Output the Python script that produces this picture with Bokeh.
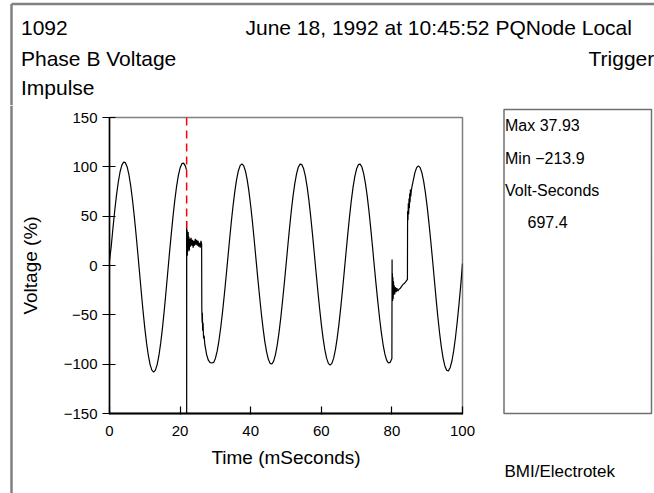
from bokeh.plotting import figure
from bokeh.models import FixedTicker, Range1d
from bokeh.layouts import column, row
from bokeh.core.properties import value
from bokeh.embed import file_html
from bokeh.resources import INLINE

NAN = float("nan")

# ---------------- data ----------------
# waveform before the trigger (0 .. 21.8 ms)
pre_t = [0.0, 0.5, 1.0, 1.5, 2.0, 2.5, 3.0, 3.5, 4.0, 4.5, 5.0, 5.5, 6.0, 6.5, 7.0, 7.5,
         8.0, 8.5, 9.0, 9.5, 10.0, 10.5, 11.0, 11.5, 12.0, 12.5, 13.0, 13.5, 14.0, 14.5,
         15.0, 15.5, 16.0, 16.5, 17.0, 17.5, 18.0, 18.5, 19.0, 19.5, 20.0, 20.5, 21.0,
         21.5, 21.8]
pre_v = [5, 19.7, 38.7, 56.3, 71.9, 84.9, 95.0, 101.7, 104.8, 104.2, 99.9, 92.0, 80.9,
         66.9, 50.6, 32.4, 13.2, -6.8, -26.9, -46.0, -63.5, -78.7, -91.2, -100.4, -106.1,
         -108.0, -106.1, -100.4, -91.2, -78.7, -63.5, -46.0, -26.9, -6.8, 13.0, 32.1, 50.1,
         66.3, 80.1, 91.1, 98.9, 103.2, 103.8, 100.7, 97.2]

# impulse at the trigger and the notch that follows (21.85 .. 28.5 ms)
imp1_t = [21.85, 21.86, 21.88, 21.95, 22.0, 22.05, 22.1, 22.2, 22.3, 22.4, 22.5, 22.6,
          22.75, 22.9, 23.1, 23.3, 23.5, 23.7, 23.9, 24.1, 24.3, 24.5, 24.7, 24.9, 25.1,
          25.3, 25.5, 25.7, 25.9, 26.1, 26.15, 26.25, 26.3, 26.4, 26.5, 26.65, 26.8, 27.0,
          27.5, 28.0, 28.5]
imp1_v = [45, -213.9, 38, 12, 36, 10, 31, 14, 34, 17, 29, 15, 27, 19, 28, 20, 26, 18, 25,
          20, 27, 21, 26, 20, 25, 19, 23, 18, 25, 22, -44, -58, -48, -66, -58, -74, -71,
          -80, -90, -96, -98.5]

# steady cycles between the two events (29 .. 80 ms)
mid_t = [29.0, 29.5, 30.0, 30.5, 31.0, 31.5, 32.0, 32.5, 33.0, 33.5, 34.0, 34.5, 35.0,
         35.5, 36.0, 36.5, 37.0, 37.5, 38.0, 38.5, 39.0, 39.5, 40.0, 40.5, 41.0, 41.5,
         42.0, 42.5, 43.0, 43.5, 44.0, 44.5, 45.0, 45.5, 46.0, 46.5, 47.0, 47.5, 48.0,
         48.5, 49.0, 49.5, 50.0, 50.5, 51.0, 51.5, 52.0, 52.5, 53.0, 53.5, 54.0, 54.5,
         55.0, 55.5, 56.0, 56.5, 57.0, 57.5, 58.0, 58.5, 59.0, 59.5, 60.0, 60.5, 61.0,
         61.5, 62.0, 62.5, 63.0, 63.5, 64.0, 64.5, 65.0, 65.5, 66.0, 66.5, 67.0, 67.5,
         68.0, 68.5, 69.0, 69.5, 70.0, 70.5, 71.0, 71.5, 72.0, 72.5, 73.0, 73.5, 74.0,
         74.5, 75.0, 75.5, 76.0, 76.5, 77.0, 77.5, 78.0, 78.5, 79.0, 79.5, 80.0]
mid_v = [-98.8, -98.2, -94.2, -86.8, -76.3, -63.1, -47.7, -30.6, -12.4, 6.5, 25.6, 43.9,
         60.5, 75.1, 87.0, 95.8, 101.2, 103.0, 101.2, 95.8, 87.0, 75.1, 60.5, 43.9, 25.6,
         6.5, -12.5, -30.9, -48.2, -63.7, -77.1, -87.6, -95.1, -99.2, -99.8, -96.9, -90.5,
         -80.9, -68.5, -53.6, -36.8, -18.7, 0, 19.3, 37.9, 55.2, 70.5, 83.3, 93.2, 99.8,
         102.8, 102.2, 98.0, 90.3, 79.4, 65.7, 49.6, 31.8, 12.9, -6.3, -25.1, -43.0, -59.4,
         -73.6, -85.3, -93.9, -99.2, -101.0, -99.2, -93.9, -85.3, -73.6, -59.4, -43.0,
         -25.1, -6.3, 12.9, 31.8, 49.6, 65.7, 79.4, 90.3, 98.0, 102.2, 102.8, 99.8, 93.2,
         83.3, 70.5, 55.2, 37.9, 19.3, 0, -18.6, -36.4, -53.0, -67.8, -80.1, -89.6, -95.9,
         -98.8, -98.2, -94.2]

# second disturbance (80 .. 85.75 ms)
imp2_t = [80.05, 80.1, 80.15, 80.2, 80.28, 80.36, 80.45, 80.55, 80.65, 80.8, 81.0, 81.2,
          81.4, 81.7, 82.0, 82.4, 82.8, 83.2, 83.6, 84.0, 84.4, 84.45, 84.55, 84.65, 84.75,
          84.85, 84.95, 85.05, 85.15, 85.25, 85.35, 85.5, 85.75]
imp2_v = [6, -32, -8, -36, -12, -34, -16, -30, -20, -29, -22, -27, -23, -26, -24, -23, -21,
          -19, -18, -16, -14, 55, 46, 63, 52, 68, 58, 73, 64, 77, 70, 76, 81]

# last cycle (86 .. 100 ms)
end_t = [86.0, 86.5, 87.0, 87.5, 88.0, 88.5, 89.0, 89.5, 90.0, 90.5, 91.0, 91.5, 92.0,
         92.5, 93.0, 93.5, 94.0, 94.5, 95.0, 95.5, 96.0, 96.5, 97.0, 97.5, 98.0, 98.5,
         99.0, 99.5, 100.0]
end_v = [85.3, 93.9, 99.2, 101.0, 99.2, 93.9, 85.3, 73.6, 59.4, 43.0, 25.1, 6.3, -13.4,
         -33.1, -51.6, -68.2, -82.4, -93.8, -101.8, -106.2, -106.8, -103.6, -96.8, -86.6,
         -73.2, -57.3, -39.4, -20.1, 2]

trigger_ms = [21.85, 21.85]
trigger_v = [150, 37.93]

x_ticks = [0, 20, 40, 60, 80, 100]
y_ticks = [-150, -100, -50, 0, 50, 100, 150]
y_tick_labels = ["\u2212150", "\u2212100", "\u221250", "0", "50", "100", "150"]

header_left = ["1092", "Phase B Voltage", "Impulse"]
header_date = "June 18, 1992 at 10:45:52 PQNode Local"
header_trigger = "Trigger"
stats_lines = ["Max 37.93", "Min \u2212213.9", "Volt-Seconds", "697.4"]
credit = "BMI/Electrotek"

# ---------------- layout ----------------
FONT = "Liberation Sans"
GRAY = "#808080"
HDR_H = 105          # header strip height (px)
STRIP_W = 14         # left border strip width (px)
MAIN_W = 466         # chart canvas width (px)
SIDE_W = 654 - STRIP_W - MAIN_W
BODY_H = 493 - HDR_H
BASE_FIX = 0.40      # observed shift of the text baseline, in em


def blank(width, height, x0, y0):
    """A figure whose frame fills its canvas, mapped 1:1 onto page pixels."""
    f = figure(width=width, height=height, output_backend="svg", toolbar_location=None,
               x_range=Range1d(x0, x0 + width), y_range=Range1d(y0 + height, y0),
               x_axis_type=None, y_axis_type=None, min_border=0)
    f.frame_align = False
    f.outline_line_color = None
    f.background_fill_color = "white"
    f.border_fill_color = "white"
    return f


def put_text(f, texts, xs, ys, size_px):
    ys = [y - BASE_FIX * size_px for y in ys]
    f.text(x=xs, y=ys, text=texts, text_font=value(FONT), text_font_size=f"{size_px}px",
           text_color="black", text_align="left", text_baseline="alphabetic")


# header
hdr = blank(654, HDR_H, 0, 0)
hdr.segment(x0=[11, 11], y0=[3.5, 3.5], x1=[654, 11], y1=[3.5, HDR_H],
            line_color=GRAY, line_width=2.5)
put_text(hdr, header_left + [header_date, header_trigger],
         [20.5, 20.5, 20.5, 245, 588], [35.7, 66.7, 95, 35.7, 66.7], 21)

# left border strip
strip = blank(STRIP_W, BODY_H, 0, HDR_H)
strip.segment(x0=[11], y0=[HDR_H], x1=[11], y1=[493], line_color=GRAY, line_width=2.5)

# statistics panel
side = blank(SIDE_W, BODY_H, STRIP_W + MAIN_W, HDR_H)
side.quad(left=[503.5], right=[651], top=[109], bottom=[413], fill_color=None,
          line_color="#707070", line_width=1.5)
put_text(side, stats_lines[:3], [504.5, 504.5, 504.5], [131.7, 164, 196], 16)
put_text(side, stats_lines[3:], [527], [228.3], 16)
put_text(side, [credit], [504], [478], 17)

# main chart
time_ms = pre_t + [21.82] + imp1_t + mid_t + imp2_t + end_t
volt_pct = pre_v + [NAN] + imp1_v + mid_v + imp2_v + end_v

p = figure(width=MAIN_W, height=BODY_H, output_backend="svg", toolbar_location=None,
           x_range=Range1d(0, 100), y_range=Range1d(-150, 150),
           min_border_left=109 - STRIP_W, min_border_right=STRIP_W + MAIN_W - 462,
           min_border_top=117 - HDR_H, min_border_bottom=493 - 413)
p.frame_align = False
p.xgrid.visible = False
p.ygrid.visible = False
p.background_fill_color = "white"
p.border_fill_color = "white"
p.outline_line_color = GRAY
p.outline_line_width = 1.5

p.line(time_ms, volt_pct, line_color="black", line_width=1.2)
p.line(trigger_ms, trigger_v, line_color="red", line_width=1.5, line_dash="8 5")

xa = p.xaxis[0]
xa.ticker = FixedTicker(ticks=x_ticks)
xa.axis_line_width = 2
xa.axis_line_color = "black"
xa.major_tick_in = 7
xa.major_tick_out = 1
xa.major_tick_line_width = 1.2
xa.minor_tick_line_color = None
xa.major_label_standoff = 11
xa.major_label_text_font = FONT
xa.major_label_text_font_size = "15px"
xa.major_label_text_color = "black"
xa.axis_label = "Time (mSeconds)"
xa.axis_label_text_font = FONT
xa.axis_label_text_font_size = "19px"
xa.axis_label_text_font_style = "normal"
xa.axis_label_text_color = "black"
xa.axis_label_standoff = 8

ya = p.yaxis[0]
ya.ticker = FixedTicker(ticks=y_ticks)
ya.major_label_overrides = {t: s for t, s in zip(y_ticks, y_tick_labels)}
ya.axis_line_width = 1.5
ya.axis_line_color = "black"
ya.major_tick_in = 6
ya.major_tick_out = 7
ya.major_tick_line_width = 1.2
ya.minor_tick_line_color = None
ya.major_label_standoff = 5
ya.major_label_text_font = FONT
ya.major_label_text_font_size = "15px"
ya.major_label_text_color = "black"
ya.axis_label = "Voltage (%)"
ya.axis_label_text_font = FONT
ya.axis_label_text_font_size = "19px"
ya.axis_label_text_font_style = "normal"
ya.axis_label_text_color = "black"
ya.axis_label_standoff = 20

page = column(hdr, row(strip, p, side, spacing=0), spacing=0)

open("out.html", "w").write(file_html(page, INLINE))
